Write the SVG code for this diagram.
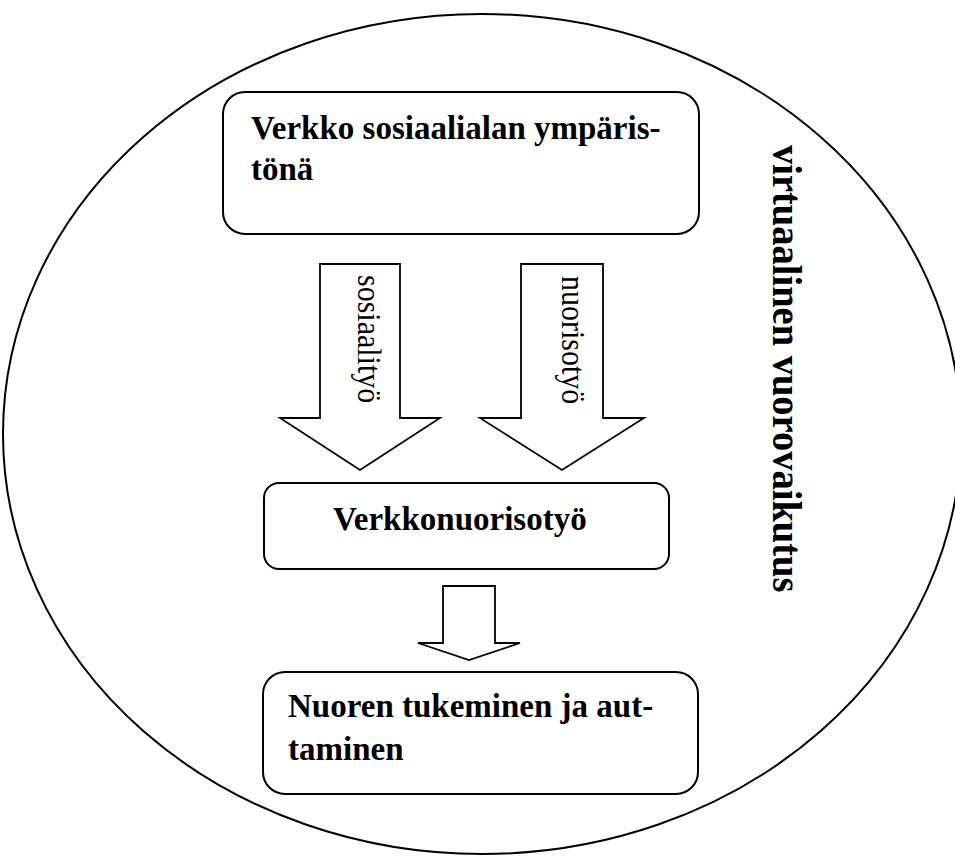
<svg xmlns="http://www.w3.org/2000/svg" width="955" height="857" viewBox="0 0 955 857">
  <style>
    .frame { fill: none; stroke: #000; stroke-width: 2; }
    .box { fill: #fff; stroke: #000; stroke-width: 2; }
    .arrow { fill: #fff; stroke: #000; stroke-width: 1.8; stroke-linejoin: miter; }
    .title { font-family: "Liberation Serif", "Times New Roman", serif; font-weight: bold; font-size: 33px; fill: #000; }
    .side { font-family: "Liberation Serif", "Times New Roman", serif; font-weight: bold; font-size: 38.5px; fill: #000; }
    .flow { font-family: "Liberation Serif", "Times New Roman", serif; font-size: 30px; fill: #000; }
  </style>
  <rect width="955" height="857" fill="#fff"/>

  <!-- surrounding context: virtual interaction -->
  <g id="context">
    <ellipse class="frame" cx="482" cy="434" rx="479" ry="420"/>
    <text class="side" transform="translate(773,145) rotate(90) scale(1,1.1)">virtuaalinen vuorovaikutus</text>
  </g>

  <!-- block arrows between the levels -->
  <g id="connectors">
    <g id="arrow-sosiaalityo">
      <path class="arrow" d="M320,264 H400 V418 H440 L360,470 L280,418 H320 Z"/>
      <text class="flow" transform="translate(358,275) rotate(90) scale(1,1.15)">sosiaalityö</text>
    </g>
    <g id="arrow-nuorisotyo">
      <path class="arrow" d="M521,264 H603 V418 H644 L562,470 L480,418 H521 Z"/>
      <text class="flow" transform="translate(562,276) rotate(90) scale(1,1.15)">nuorisotyö</text>
    </g>
    <g id="arrow-tuki">
      <path class="arrow" d="M443,586 H495 V643 H520 L469,660 L418,643 H443 Z"/>
    </g>
  </g>

  <g id="verkko">
    <rect class="box" x="223" y="92" width="476" height="142" rx="22"/>
    <text class="title" x="251" y="139">Verkko sosiaalialan ympäris-</text>
    <text class="title" x="251" y="180">tönä</text>
  </g>

  <g id="verkkonuorisotyo">
    <rect class="box" x="264" y="483" width="405" height="86" rx="15"/>
    <text class="title" x="333" y="530">Verkkonuorisotyö</text>
  </g>

  <g id="tukeminen">
    <rect class="box" x="263" y="672" width="435" height="122" rx="22"/>
    <text class="title" x="288" y="717">Nuoren tukeminen ja aut-</text>
    <text class="title" x="288" y="760">taminen</text>
  </g>
</svg>
